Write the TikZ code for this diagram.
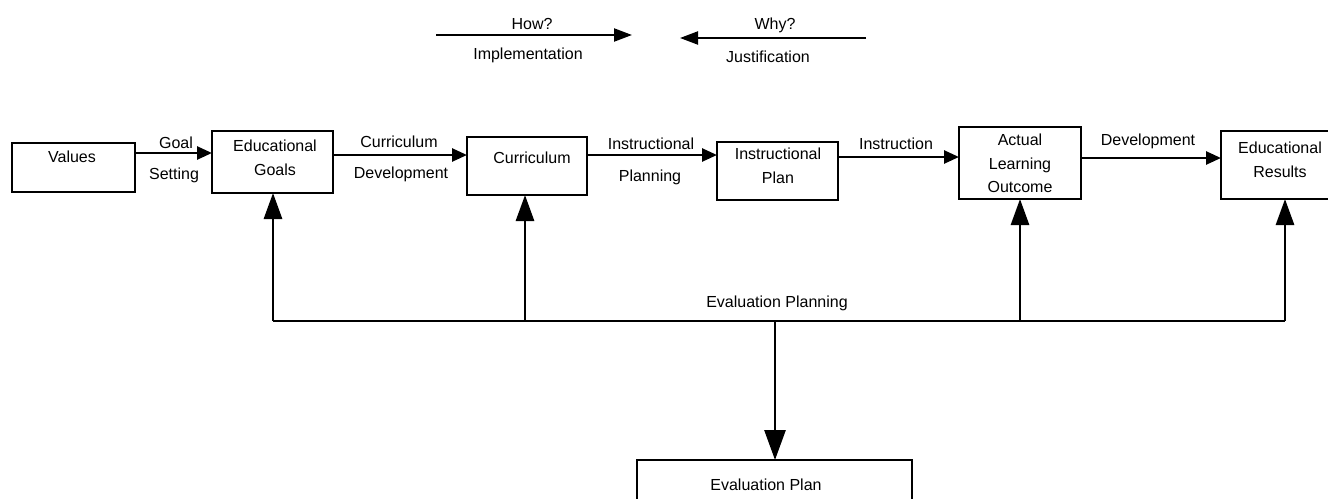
\documentclass[tikz,border=0pt]{standalone}
\usepackage{fontspec}
\setmainfont{Liberation Sans}
\usetikzlibrary{arrows.meta,calc}
\begin{document}
\begin{tikzpicture}[x=1pt,y=-1pt,
  box/.style={draw,line width=2.2pt,inner sep=0pt,outer sep=0pt},
  txt/.style={font=\fontsize{16}{23.5}\selectfont,align=center,inner sep=0pt},
  harr/.style={line width=2.6pt,-{Triangle[length=15pt,width=13pt]}},
  tarr/.style={line width=2.2pt,-{Triangle[length=18pt,width=13pt]}},
  varr/.style={line width=2.8pt,-{Triangle[length=26pt,width=18pt]}},
  darr/.style={line width=2.8pt,-{Triangle[length=30pt,width=21pt]}},
  link/.style={line width=2.8pt}]
\useasboundingbox (0,0) rectangle (1328,498);
\clip (0,0) rectangle (1328,498);
% top legend
\coordinate (h1) at (436,35);
\coordinate (h2) at (632,35);
\coordinate (w1) at (866,38);
\coordinate (w2) at (680,38);
\draw[tarr] (h1) -- (h2);
\draw[tarr] (w1) -- (w2);
\node[txt] (how) at (532,24) {How?};
\node[txt] (impl) at (528,55) {Implementation};
\node[txt] (why) at (775,25) {Why?};
\node[txt] (just) at (768,57) {Justification};
% boxes
\node[box,minimum width=123pt,minimum height=49pt] (values) at (73.5,167.5) {};
\node[box,minimum width=121pt,minimum height=62pt] (goals) at (272.5,162) {};
\node[box,minimum width=120pt,minimum height=58pt] (curric) at (527,166) {};
\node[box,minimum width=121pt,minimum height=58pt] (iplan) at (777.5,171) {};
\node[box,minimum width=122pt,minimum height=72pt] (outcome) at (1020,163) {};
\node[box,minimum width=125pt,minimum height=68pt] (results) at (1283.5,165) {};
\node[box,minimum width=275pt,minimum height=80pt] (evalplan) at (774.5,500) {};
% box texts
\node[txt] (valuesT) at (72,157) {Values};
\node[txt] (goalsT) at (275,158) {Educational\\Goals};
\node[txt] (curricT) at (532,158) {Curriculum};
\node[txt] (iplanT) at (778,166) {Instructional\\Plan};
\node[txt] (outcomeT) at (1020,163.5) {Actual\\Learning\\Outcome};
\node[txt] (resultsT) at (1280,160) {Educational\\Results};
\node[txt] (evalplanT) at (766,485) {Evaluation Plan};
% horizontal connectors
\draw[harr] (values.east |- 0,153) -- (goals.west |- 0,153);
\draw[harr] (goals.east |- 0,155) -- (curric.west |- 0,155);
\draw[harr] (curric.east |- 0,155) -- (iplan.west |- 0,155);
\draw[harr] (iplan.east |- 0,157) -- (outcome.west |- 0,157);
\draw[harr] (outcome.east |- 0,158) -- (results.west |- 0,158);
% connector labels
\node[txt] (l1a) at (176,143) {Goal};
\node[txt] (l1b) at (174,175) {Setting};
\node[txt] (l2a) at (399,142) {Curriculum};
\node[txt] (l2b) at (401,174) {Development};
\node[txt] (l3a) at (651,144) {Instructional};
\node[txt] (l3b) at (650,177) {Planning};
\node[txt] (l4a) at (896,144) {Instruction};
\node[txt] (l5a) at (1148,141) {Development};
% evaluation planning feedback
\coordinate (b1) at (273,321);
\coordinate (b2) at (525,321);
\coordinate (bc) at (775,321);
\coordinate (b3) at (1020,321);
\coordinate (b4) at (1285,321);
\draw[link] (b1) -- (b4);
\draw[varr] (b1) -- (b1 |- goals.south);
\draw[varr] (b2) -- (b2 |- curric.south);
\draw[varr] (b3) -- (b3 |- outcome.south);
\draw[varr] (b4) -- (b4 |- results.south);
\draw[darr] (bc) -- (bc |- evalplan.north);
\node[txt] (evplanning) at (777,303) {Evaluation Planning};
\end{tikzpicture}
\end{document}
